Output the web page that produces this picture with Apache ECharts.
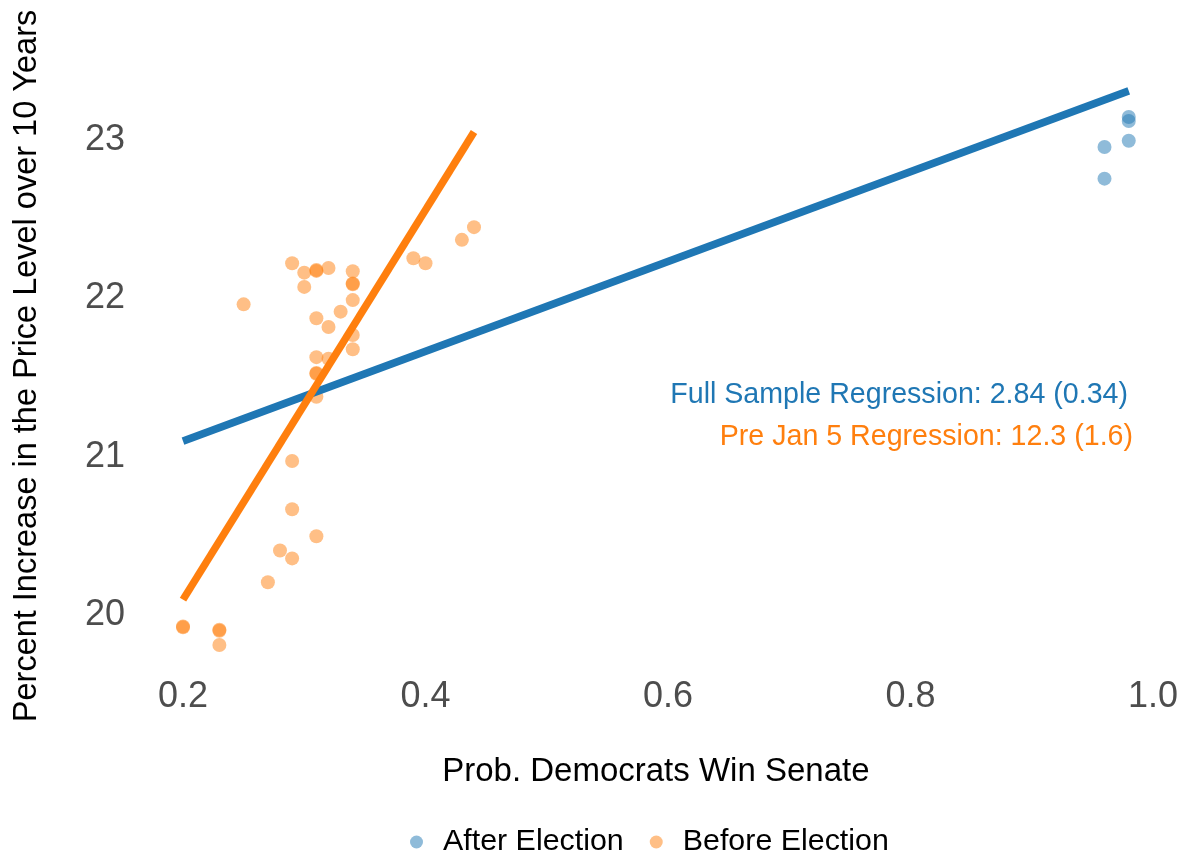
<!DOCTYPE html>
<html>
<head>
<meta charset="utf-8">
<script src="https://cdn.jsdelivr.net/npm/echarts@6/dist/echarts.min.js"></script>
<style>
html,body{margin:0;padding:0;background:#fff;}
#chart{width:1189px;height:859px;}
</style>
</head>
<body>
<div id="chart"></div>
<script>
// ---- data ----
const afterElection = [
  [0.98, 23.145], [0.98, 23.12], [0.98, 22.995], [0.96, 22.956], [0.96, 22.756]
];
const beforeElection = [
  [0.25, 21.963], [0.29, 22.222], [0.30, 22.163], [0.31, 22.174], [0.31, 22.18],
  [0.32, 22.192], [0.34, 22.172], [0.34, 22.09], [0.34, 22.095], [0.30, 22.073],
  [0.34, 21.99], [0.33, 21.917], [0.31, 21.875], [0.32, 21.82], [0.34, 21.77],
  [0.34, 21.68], [0.31, 21.63], [0.32, 21.62], [0.31, 21.53], [0.31, 21.525],
  [0.31, 21.38], [0.39, 22.254], [0.40, 22.222], [0.43, 22.37], [0.44, 22.45],
  [0.29, 20.975], [0.29, 20.67], [0.31, 20.50], [0.28, 20.41], [0.29, 20.36],
  [0.27, 20.21], [0.20, 19.925], [0.20, 19.93], [0.23, 19.904], [0.23, 19.91],
  [0.23, 19.814]
];
const fullFitLine = [[0.20, 21.10], [0.98, 23.31]];
const preJan5FitLine = [[0.20, 20.10], [0.44, 23.05]];
const xTickLabels = [0.2, 0.4, 0.6, 0.8, 1.0];
const yTickLabels = [20, 21, 22, 23];
const xTitle = 'Prob. Democrats Win Senate';
const yTitle = 'Percent Increase in the Price Level over 10 Years';
const annotations = [
  'Full Sample Regression: 2.84 (0.34)',
  'Pre Jan 5 Regression: 12.3 (1.6)'
];

const FONT = "'Liberation Sans', Arial, Helvetica, sans-serif";
const BLUE = '#1F77B4';
const ORANGE = '#FF7F0E';

function near(v, list){ return list.some(t => Math.abs(v - t) < 1e-6); }

const chart = echarts.init(document.getElementById('chart'), null, {renderer:'canvas'});
chart.setOption({
  backgroundColor: '#ffffff',
  animation: false,
  grid: { left: 158.75, right: 36, top: 60.75, bottom: 203.9, containLabel: false, outerBoundsMode: 'none' },
  xAxis: {
    type: 'value', min: 0.18, max: 1.0, interval: 0.02,
    axisLine: {show:false}, axisTick: {show:false}, splitLine: {show:false},
    axisLabel: {
      margin: 24, fontSize: 36, color: '#4D4D4D', fontFamily: FONT,
      formatter: v => near(v, xTickLabels) ? v.toFixed(1) : ''
    },
    name: xTitle, nameLocation: 'middle', nameGap: 100,
    nameTextStyle: { fontSize: 33, color: '#000', fontFamily: FONT }
  },
  yAxis: {
    type: 'value', min: 19.75, max: 23.5, interval: 0.25,
    axisLine: {show:false}, axisTick: {show:false}, splitLine: {show:false},
    axisLabel: {
      margin: 33.75, fontSize: 36, color: '#4D4D4D', fontFamily: FONT,
      padding: [6, 0, 0, 0],
      formatter: v => near(v, yTickLabels) ? String(Math.round(v)) : ''
    }
  },
  legend: {
    data: [
      { name: 'After Election', itemStyle: { color: '#8FBBD9', opacity: 1 } },
      { name: 'Before Election', itemStyle: { color: '#FFBF86', opacity: 1 } }
    ],
    left: 405, top: 822, orient: 'horizontal',
    icon: 'circle', itemWidth: 13, itemHeight: 13, itemGap: 26,
    textStyle: { fontSize: 30.4, color: '#000', fontFamily: FONT, padding: [0,0,0,15] }
  },
  graphic: [
    { type: 'text', x: 27, y: 366, rotation: Math.PI / 2,
      style: { text: yTitle, font: '32.5px ' + FONT, fill: '#000', align: 'center', verticalAlign: 'middle' } },
    { type: 'text', x: 1128, y: 395,
      style: { text: annotations[0], font: '28.6px ' + FONT, fill: BLUE, align: 'right', verticalAlign: 'middle' } },
    { type: 'text', x: 1133, y: 437,
      style: { text: annotations[1], font: '28.6px ' + FONT, fill: ORANGE, align: 'right', verticalAlign: 'middle' } }
  ],
  series: [
    { name: 'After Election', type: 'scatter', data: afterElection, symbolSize: 14,
      itemStyle: { color: BLUE, opacity: 0.5 }, clip: false, z: 2 },
    { name: 'Before Election', type: 'scatter', data: beforeElection, symbolSize: 14,
      itemStyle: { color: ORANGE, opacity: 0.5 }, clip: false, z: 2 },
    { name: 'Full fit', type: 'line', data: fullFitLine, symbol: 'none',
      lineStyle: { color: BLUE, width: 7.5 }, clip: false, z: 3, silent: true },
    { name: 'Pre fit', type: 'line', data: preJan5FitLine, symbol: 'none',
      lineStyle: { color: ORANGE, width: 7.5 }, clip: false, z: 4, silent: true }
  ]
});
</script>
</body>
</html>
